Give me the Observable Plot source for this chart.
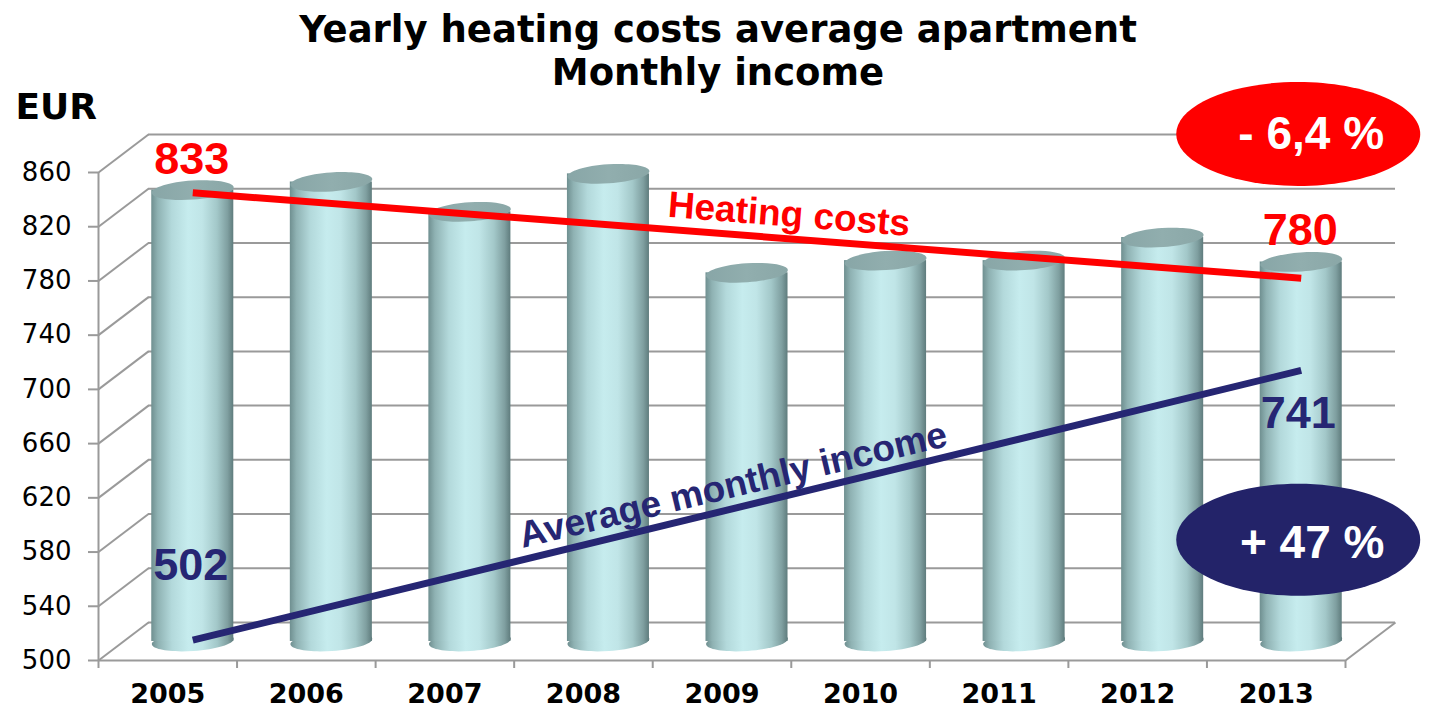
<!DOCTYPE html>
<html>
<head>
<meta charset="utf-8">
<script src="https://cdn.jsdelivr.net/npm/d3@7"></script>
<script src="https://cdn.jsdelivr.net/npm/@observablehq/plot@0.6"></script>
<style>
  html, body { margin: 0; padding: 0; background: #fff; }
  #chart svg { display: block; overflow: visible; }
</style>
</head>
<body>
<div id="chart"></div>
<script>
// ---------------- data ----------------
const years = [2005, 2006, 2007, 2008, 2009, 2010, 2011, 2012, 2013];
const heatingCosts = [833, 839, 817, 845, 772, 781, 781, 798, 780];
const yTicks = [500, 540, 580, 620, 660, 700, 740, 780, 820, 860];
const trendYears = [2005, 2013];
const heatingTrend = [831, 768];
const incomeTrend = [501, 700];
const heatingLabels = [{year: 2005, value: 833}, {year: 2013, value: 780}];
const incomeLabels = [{year: 2005, value: 502}, {year: 2013, value: 741}];
const titleLines = ["Yearly heating costs average apartment", "Monthly income"];
const yUnit = "EUR";
const heatingName = "Heating costs";
const incomeName = "Average monthly income";
const heatingChange = "- 6,4 %";
const incomeChange = "+ 47 %";

// ---------------- layout / style ----------------
const W = 1441, H = 711;
const M = {left: 98, right: 96, top: 172, bottom: 51};
const DEPTH = {dx: 50, dy: -38};          // full depth of the 3D box (px)
const MID = {dx: 25, dy: -19};            // plane of the cylinders (px)
const kx = (W - M.left - M.right) / years.length;
const ky = (H - M.top - M.bottom) / (yTicks[yTicks.length - 1] - yTicks[0]);
const ddx = DEPTH.dx / kx, ddy = -DEPTH.dy / ky;   // depth in data units
const barHalf = 0.296;
const GRID = "#9a9a9a";
const RED = "#ff0000";
const NAVY = "#262673";
const NAVY_BADGE = "#232369";
const VERDANA = "DejaVu Sans, Verdana, sans-serif";
const ARIAL = "Liberation Sans, Arial, sans-serif";

const xi = (y) => years.indexOf(y) + 0.5;
const bars = years.map((year, i) => ({x: i + 0.5, value: heatingCosts[i]}));
const heatLine = trendYears.map((y, i) => ({x: xi(y), value: heatingTrend[i]}));
const incLine = trendYears.map((y, i) => ({x: xi(y), value: incomeTrend[i]}));
const base = yTicks[0];

function ellipseSymbol(rx, ry, deg) {
  const t = deg * Math.PI / 180, c = Math.cos(t), s = Math.sin(t), k = 0.5523;
  const P = (x, y) => [x * c - y * s, x * s + y * c];
  return {
    draw(ctx) {
      ctx.moveTo(...P(rx, 0));
      ctx.bezierCurveTo(...P(rx, k * ry), ...P(k * rx, ry), ...P(0, ry));
      ctx.bezierCurveTo(...P(-k * rx, ry), ...P(-rx, k * ry), ...P(-rx, 0));
      ctx.bezierCurveTo(...P(-rx, -k * ry), ...P(-k * rx, -ry), ...P(0, -ry));
      ctx.bezierCurveTo(...P(k * rx, -ry), ...P(rx, -k * ry), ...P(rx, 0));
      ctx.closePath();
    }
  };
}
const capSym = ellipseSymbol(41, 9.5, -4);
const badgeRed = ellipseSymbol(122, 52, 0);
const badgeNavy = ellipseSymbol(122, 56, 0);

const midX = (xi(trendYears[0]) + xi(trendYears[1])) / 2;

const chart = Plot.plot({
  width: W,
  height: H,
  marginLeft: M.left,
  marginRight: M.right,
  marginTop: M.top,
  marginBottom: M.bottom,
  x: {type: "linear", domain: [0, years.length], label: null},
  y: {domain: [yTicks[0], yTicks[yTicks.length - 1]], label: null},
  style: {fontFamily: VERDANA, background: "#fff", overflow: "visible"},
  marks: [
    // back wall grid
    Plot.ruleY(yTicks, {dx: DEPTH.dx, dy: DEPTH.dy, stroke: GRID, strokeWidth: 2}),
    // left wall diagonals
    Plot.link(yTicks, {x1: () => 0, x2: () => ddx, y1: d => d, y2: d => d + ddy, stroke: GRID, strokeWidth: 2}),
    // floor right edge and front edge
    Plot.link([base], {x1: () => years.length, x2: () => years.length + ddx, y1: d => d, y2: d => d + ddy, stroke: GRID, strokeWidth: 2}),
    Plot.ruleY([base], {stroke: GRID, strokeWidth: 2}),
    Plot.ruleX([0], {y1: () => yTicks[0], y2: () => yTicks[yTicks.length - 1], stroke: GRID, strokeWidth: 2}),
    // axes
    Plot.axisY(yTicks, {tickSize: 10, tickPadding: 17, stroke: GRID, strokeWidth: 2, fill: "#000", fontSize: 26, fontFamily: VERDANA}),
    Plot.axisX(d3.range(years.length + 1), {tickSize: 8, tickFormat: () => "", stroke: GRID, strokeWidth: 2}),
    Plot.axisX(years.map((_, i) => i + 0.5), {tickSize: 0, tickPadding: 23, tickFormat: d => String(years[Math.floor(d)]), fill: "#000", fontSize: 27, fontWeight: "bold", fontFamily: VERDANA}),
    // cylinders
    Plot.dot(bars, {x: "x", y: () => base, dx: MID.dx, dy: MID.dy, symbol: capSym, fill: "url(#cylBody)", stroke: "none"}),
    Plot.rect(bars, {x1: d => d.x - barHalf, x2: d => d.x + barHalf, y1: () => base, y2: "value", dx: MID.dx, dy: MID.dy, fill: "url(#cylBody)", inset: 0}),
    Plot.dot(bars, {x: "x", y: "value", dx: MID.dx, dy: MID.dy, symbol: capSym, fill: "url(#cylTop)", stroke: "none"}),
    // trend lines
    Plot.line(heatLine, {x: "x", y: "value", dx: MID.dx, dy: MID.dy, stroke: RED, strokeWidth: 7, strokeLinecap: "butt"}),
    Plot.line(incLine, {x: "x", y: "value", dx: MID.dx, dy: MID.dy, stroke: NAVY, strokeWidth: 7, strokeLinecap: "butt"}),
    // trend names
    Plot.text([heatingName], {x: () => midX, y: () => d3.mean(heatingTrend), text: d => d, dx: 67, dy: -40, rotate: 4.5, fill: RED, fontSize: 37, fontWeight: "bold", fontFamily: ARIAL}),
    Plot.text([incomeName], {x: () => midX, y: () => d3.mean(incomeTrend), text: d => d, dx: 11, dy: -39, rotate: -13.5, fill: NAVY, fontSize: 37, fontWeight: "bold", fontFamily: ARIAL}),
    // value labels
    Plot.text(heatingLabels, {x: d => xi(d.year), y: "value", text: d => String(d.value), dx: 24, dy: -50, fill: RED, fontSize: 45, fontWeight: "bold", fontFamily: ARIAL}),
    Plot.text(incomeLabels.slice(0, 1), {x: d => xi(d.year), y: "value", text: d => String(d.value), dx: 23, dy: -92, fill: NAVY, fontSize: 45, fontWeight: "bold", fontFamily: ARIAL}),
    Plot.text(incomeLabels.slice(1), {x: d => xi(d.year), y: "value", text: d => String(d.value), dx: 22, dy: 80, fill: NAVY, fontSize: 45, fontWeight: "bold", fontFamily: ARIAL}),
    // change badges
    Plot.dot(heatingLabels.slice(1), {x: d => xi(d.year), y: "value", dx: 22, dy: -147, symbol: badgeRed, fill: RED, stroke: "none"}),
    Plot.text(heatingLabels.slice(1), {x: d => xi(d.year), y: "value", text: () => heatingChange, dx: 35, dy: -147, fill: "#fff", fontSize: 46, fontWeight: "bold", fontFamily: ARIAL}),
    Plot.dot(incomeLabels.slice(1), {x: d => xi(d.year), y: "value", dx: 22, dy: 206, symbol: badgeNavy, fill: NAVY_BADGE, stroke: "none"}),
    Plot.text(incomeLabels.slice(1), {x: d => xi(d.year), y: "value", text: () => incomeChange, dx: 36, dy: 209, fill: "#fff", fontSize: 46, fontWeight: "bold", fontFamily: ARIAL}),
    // titles
    Plot.text([titleLines[0]], {frameAnchor: "top", text: d => d, dx: -4, dy: -157, fontSize: 37, fontWeight: "bold", fill: "#000", fontFamily: VERDANA}),
    Plot.text([titleLines[1]], {frameAnchor: "top", text: d => d, dx: -4, dy: -114, fontSize: 37, fontWeight: "bold", fill: "#000", fontFamily: VERDANA}),
    Plot.text([yUnit], {frameAnchor: "top-left", text: d => d, textAnchor: "start", dx: -83, dy: -79, fontSize: 36, fontWeight: "bold", fill: "#000", fontFamily: VERDANA})
  ]
});

// gradients for the cylinders
const defs = d3.select(chart).insert("defs", ":first-child");
const bodyGrad = defs.append("linearGradient").attr("id", "cylBody")
  .attr("x1", "0").attr("x2", "1").attr("y1", "0").attr("y2", "0");
[["0%", "#6f8f90"], ["8%", "#8fb2b3"], ["25%", "#b3d9db"], ["45%", "#c6ecee"],
 ["62%", "#c0e5e7"], ["80%", "#a3c8c9"], ["93%", "#7f9fa0"], ["100%", "#5f7c7d"]]
  .forEach(([o, c]) => bodyGrad.append("stop").attr("offset", o).attr("stop-color", c));
const topGrad = defs.append("linearGradient").attr("id", "cylTop")
  .attr("x1", "0").attr("x2", "1").attr("y1", "0").attr("y2", "0");
[["0%", "#88a6a7"], ["50%", "#91aeae"], ["100%", "#8aa7a7"]]
  .forEach(([o, c]) => topGrad.append("stop").attr("offset", o).attr("stop-color", c));

document.getElementById("chart").appendChild(chart);
</script>
</body>
</html>
